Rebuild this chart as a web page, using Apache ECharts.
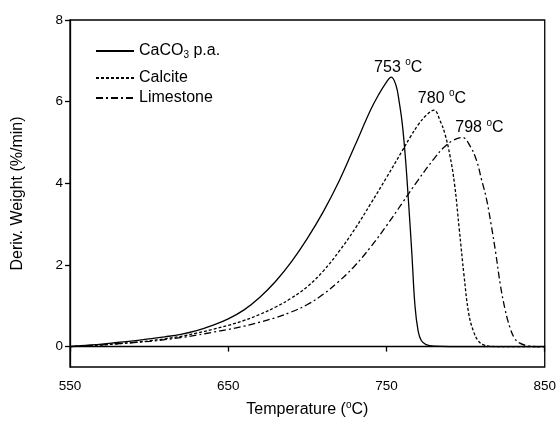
<!DOCTYPE html>
<html>
<head>
<meta charset="utf-8">
<script src="https://cdn.jsdelivr.net/npm/echarts@6/dist/echarts.min.js"></script>
<style>
  html, body { margin: 0; padding: 0; background: #fff; }
  #chart { width: 559px; height: 425px; }
</style>
</head>
<body>
<div id="chart"></div>
<script>
// DTG curves: derivative weight loss vs temperature
const caco3Temp = [550,560,570,580,590,600,610,620,630,640,650,660,670,680,690,700,710,720,730,740,745,750,753,756,758,760,762,764,766,768,770,772,775,780,790,850];
const caco3Value = [0,0.03,0.06,0.1,0.14,0.19,0.24,0.3,0.39,0.52,0.68,0.9,1.21,1.6,2.08,2.65,3.3,4.05,4.92,5.8,6.17,6.48,6.6,6.4,6.0,5.45,4.6,3.5,2.3,1.0,0.38,0.15,0.05,0.01,0,0];

const calciteTemp = [550,560,570,580,590,600,610,620,630,640,650,660,670,680,690,700,710,720,730,740,750,760,765,770,775,780,784,787,790,793,796,799,802,805,808,811,815,820,850];
const calciteValue = [0,0.02,0.04,0.07,0.1,0.14,0.19,0.25,0.33,0.42,0.52,0.64,0.79,0.97,1.19,1.47,1.85,2.33,2.88,3.5,4.14,4.8,5.13,5.43,5.66,5.79,5.52,5.2,4.7,3.98,2.87,1.74,0.8,0.37,0.14,0.05,0.01,0,0];

const limestoneTemp = [550,560,570,580,590,600,610,620,630,640,650,660,670,680,690,700,710,720,730,740,750,760,770,780,786,792,798,803,807,810,813,816,819,822,825,828,831,834,838,845,850];
const limestoneValue = [0,0.02,0.04,0.07,0.1,0.13,0.17,0.22,0.28,0.35,0.42,0.5,0.6,0.71,0.85,1.03,1.28,1.6,1.98,2.44,2.96,3.52,4.08,4.6,4.87,5.05,5.12,4.9,4.55,4.1,3.65,3.02,2.3,1.5,0.9,0.47,0.2,0.09,0.03,0,0];

const seriesNames = ['CaCO3 p.a.', 'Calcite', 'Limestone'];
const peakTemps = [753, 780, 798];
const peakValues = [6.6, 5.79, 5.12];
const yTickValues = [0, 2, 4, 6, 8];

const FONT = '"Liberation Sans", Arial, sans-serif';

function pairs(xs, ys) { return xs.map((x, i) => [x, ys[i]]); }

const supStyle = { fontSize: 10, fontFamily: FONT, color: '#000', padding: [0, 0, 9, 0] };
const subStyle = { fontSize: 10, fontFamily: FONT, color: '#000', padding: [8, 0, 0, 0] };
const txt = (size) => ({ fontSize: size, fontFamily: FONT, color: '#000' });

function peakMark(i, offset) {
  return {
    symbol: 'circle',
    symbolSize: 0,
    silent: true,
    data: [{ coord: [peakTemps[i], peakValues[i]] }],
    label: {
      show: true,
      position: 'inside',
      offset: offset,
      formatter: '{n|' + peakTemps[i] + ' }{s|o}{n|C}',
      rich: { n: txt(16), s: supStyle }
    }
  };
}

const dashes = ['solid', [3, 2], [7, 3, 2, 3]];
const datasets = [pairs(caco3Temp, caco3Value), pairs(calciteTemp, calciteValue), pairs(limestoneTemp, limestoneValue)];
const peakOffsets = [[7, -10], [8, -12], [17, -10]];

const legendTops = [43, 70, 90];

const option = {
  animation: false,
  backgroundColor: '#fff',
  grid: { left: 70, right: 12, top: 20, bottom: 58, show: true, borderColor: '#000', borderWidth: 1.3, backgroundColor: 'transparent' },
  legend: seriesNames.map((name, i) => ({
    data: [name],
    orient: 'vertical',
    left: 95,
    top: legendTops[i],
    itemWidth: 38,
    itemHeight: 14,
    itemGap: 0,
    padding: 0,
    selectedMode: false,
    itemStyle: { opacity: 0 },
    formatter: (n) => n === 'CaCO3 p.a.' ? '{t|CaCO}{b|3}{t| p.a.}' : '{t|' + n + '}',
    textStyle: { rich: { t: txt(16), b: subStyle } }
  })),
  xAxis: {
    type: 'value',
    min: 550,
    max: 850,
    interval: 100,
    name: '{t|Temperature (}{s|o}{t|C)}',
    nameLocation: 'middle',
    nameGap: 33,
    nameTextStyle: { rich: { t: txt(16), s: supStyle } },
    axisLine: { show: true, lineStyle: { color: '#000', width: 1.3 } },
    axisTick: { show: true, inside: false, length: 5, lineStyle: { color: '#000', width: 1.3 } },
    axisLabel: { fontSize: 13.5, fontFamily: FONT, color: '#000', margin: 12 },
    splitLine: { show: false }
  },
  yAxis: {
    type: 'value',
    min: -0.5,
    max: 8,
    name: 'Deriv. Weight (%/min)',
    nameLocation: 'middle',
    nameGap: 44,
    nameTextStyle: txt(16),
    axisLine: { show: true, lineStyle: { color: '#000', width: 1.3 } },
    axisTick: { show: true, length: 5, customValues: yTickValues, lineStyle: { color: '#000', width: 1.3 } },
    axisLabel: { fontSize: 13.5, fontFamily: FONT, color: '#000', margin: 7, customValues: yTickValues },
    splitLine: { show: false }
  },
  series: seriesNames.map((name, i) => ({
    name: name,
    type: 'line',
    data: datasets[i],
    symbol: 'none',
    smooth: 0.4,
    lineStyle: { color: '#000', width: 1.3, type: dashes[i] },
    itemStyle: { color: '#000' },
    markPoint: peakMark(i, peakOffsets[i]),
    z: 3
  }))
};

const chart = echarts.init(document.getElementById('chart'), null, { renderer: 'canvas' });
chart.setOption(option);
</script>
</body>
</html>
